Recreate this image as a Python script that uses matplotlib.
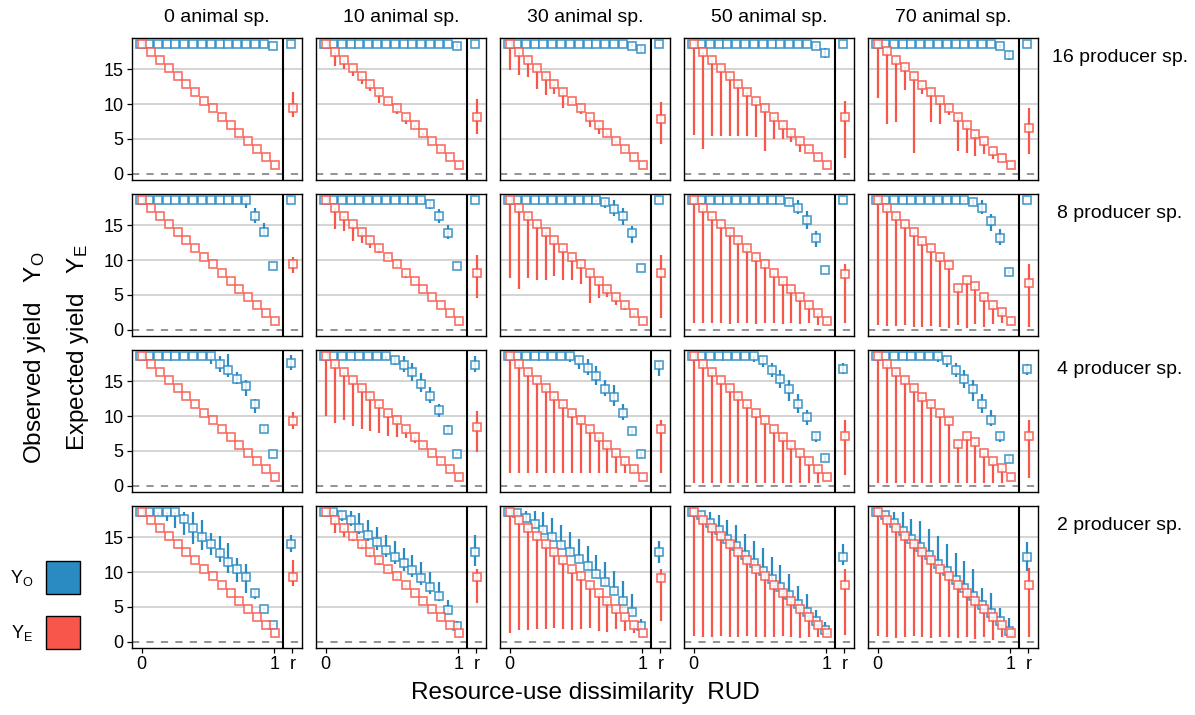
import matplotlib
matplotlib.use("Agg")
import matplotlib.pyplot as plt
from matplotlib.patches import Rectangle

plt.rcParams["font.family"] = ["Liberation Sans", "DejaVu Sans"]
plt.rcParams["mathtext.fontset"] = "custom"
plt.rcParams["mathtext.rm"] = "Liberation Sans"
plt.rcParams["mathtext.it"] = "Liberation Sans:italic"

BLUE = "#2a8bc3"
RED = "#f8564a"

ANIMALS = ["0 animal sp.", "10 animal sp.", "30 animal sp.", "50 animal sp.", "70 animal sp."]
PRODUCERS = ["16 producer sp.", "8 producer sp.", "4 producer sp.", "2 producer sp."]

RUD = [0.0, 0.067, 0.133, 0.2, 0.267, 0.333, 0.4, 0.467, 0.533, 0.6, 0.667, 0.733, 0.8, 0.867, 0.933, 1.0]
R_POS = 1.138

# expected yield medians (shared by most panels)
YE_LINE = [18.7, 17.5, 16.4, 15.2, 14.0, 12.9, 11.7, 10.5, 9.4, 8.2, 7.0, 5.9, 4.7, 3.5, 2.4, 1.2]
YE_BENT = [18.7, 17.5, 16.3, 15.2, 14.0, 12.8, 11.7, 10.5, 9.3, 6.0, 7.1, 6.2, 4.7, 3.5, 2.6, 1.2]
YE_ROW16_C5 = [18.7, 17.6, 16.3, 15.3, 14.1, 12.8, 11.8, 10.6, 9.4, 8.1, 7.0, 5.7, 4.7, 3.3, 2.2, 1.2]

# ---- 16 producer species ----
YO_MID_16 = [
    [18.6, 18.6, 18.6, 18.6, 18.6, 18.6, 18.6, 18.6, 18.6, 18.6, 18.6, 18.6, 18.6, 18.6, 18.6, 18.4],
    [18.6, 18.6, 18.6, 18.6, 18.6, 18.6, 18.6, 18.6, 18.6, 18.6, 18.6, 18.6, 18.6, 18.6, 18.6, 18.3],
    [18.6, 18.6, 18.6, 18.6, 18.6, 18.6, 18.6, 18.6, 18.6, 18.6, 18.6, 18.6, 18.6, 18.6, 18.4, 17.9],
    [18.6, 18.6, 18.6, 18.6, 18.6, 18.6, 18.6, 18.6, 18.6, 18.6, 18.6, 18.6, 18.6, 18.6, 18.4, 17.3],
    [18.6, 18.6, 18.6, 18.6, 18.6, 18.6, 18.6, 18.6, 18.6, 18.6, 18.6, 18.6, 18.6, 18.6, 18.4, 17.0],
]
YO_LO_16 = [
    [18.6, 18.6, 18.6, 18.6, 18.6, 18.6, 18.6, 18.6, 18.6, 18.6, 18.6, 18.6, 18.6, 18.6, 18.6, 18.4],
    [18.6, 18.6, 18.6, 18.6, 18.6, 18.6, 18.6, 18.6, 18.6, 18.6, 18.6, 18.6, 18.6, 18.6, 18.6, 18.0],
    [18.6, 18.6, 18.6, 18.6, 18.6, 18.6, 18.6, 18.6, 18.6, 18.6, 18.6, 18.6, 18.6, 18.6, 18.2, 17.4],
    [18.6, 18.6, 18.6, 18.6, 18.6, 18.6, 18.6, 18.6, 18.6, 18.6, 18.6, 18.6, 18.6, 18.6, 18.0, 16.6],
    [18.6, 18.6, 18.6, 18.6, 18.6, 18.6, 18.6, 18.6, 18.6, 18.6, 18.6, 18.6, 18.6, 18.6, 18.0, 16.3],
]
YO_HI_16 = [
    [18.6, 18.6, 18.6, 18.6, 18.6, 18.6, 18.6, 18.6, 18.6, 18.6, 18.6, 18.6, 18.6, 18.6, 18.6, 18.4],
    [18.6, 18.6, 18.6, 18.6, 18.6, 18.6, 18.6, 18.6, 18.6, 18.6, 18.6, 18.6, 18.6, 18.6, 18.6, 18.6],
    [18.6, 18.6, 18.6, 18.6, 18.6, 18.6, 18.6, 18.6, 18.6, 18.6, 18.6, 18.6, 18.6, 18.6, 18.6, 18.3],
    [18.6, 18.6, 18.6, 18.6, 18.6, 18.6, 18.6, 18.6, 18.6, 18.6, 18.6, 18.6, 18.6, 18.6, 18.6, 18.0],
    [18.6, 18.6, 18.6, 18.6, 18.6, 18.6, 18.6, 18.6, 18.6, 18.6, 18.6, 18.6, 18.6, 18.6, 18.6, 17.6],
]
YE_MID_16 = [YE_LINE, YE_LINE, YE_LINE, YE_LINE, YE_ROW16_C5]
YE_LO_16 = [
    YE_LINE,
    [18.7, 15.5, 15.0, 14.0, 12.9, 11.9, 10.2, 9.8, 8.6, 7.1, 6.6, 5.5, 4.5, 3.3, 2.4, 1.2],
    [14.9, 14.2, 13.9, 12.2, 11.3, 11.5, 9.5, 9.8, 8.6, 6.7, 5.7, 5.2, 4.3, 3.3, 2.4, 1.2],
    [5.5, 3.5, 5.4, 5.4, 5.4, 5.4, 5.4, 5.2, 3.3, 5.0, 5.0, 4.6, 3.1, 3.3, 2.2, 1.2],
    [10.8, 7.1, 7.4, 12.0, 3.0, 11.5, 7.4, 7.2, 8.4, 3.3, 3.0, 2.6, 2.8, 2.1, 2.2, 1.2],
]
R_YO_16 = [[18.6, 18.6, 18.6], [18.6, 18.6, 18.6], [18.6, 18.6, 18.6], [18.6, 18.6, 18.6], [18.6, 18.6, 18.6]]
R_YE_16 = [[9.4, 8.1, 11.8], [8.2, 5.7, 10.7], [7.9, 4.3, 10.3], [8.1, 2.2, 10.5], [6.5, 2.8, 9.5]]

# ---- 8 producer species ----
YO_MID_8 = [
    [18.6, 18.6, 18.6, 18.6, 18.6, 18.6, 18.6, 18.6, 18.6, 18.6, 18.6, 18.6, 18.6, 16.4, 14.0, 9.2],
    [18.6, 18.6, 18.6, 18.6, 18.6, 18.6, 18.6, 18.6, 18.6, 18.6, 18.6, 18.6, 18.0, 16.4, 13.9, 9.1],
    [18.6, 18.6, 18.6, 18.6, 18.6, 18.6, 18.6, 18.6, 18.6, 18.6, 18.6, 18.3, 17.3, 16.3, 13.9, 8.8],
    [18.6, 18.6, 18.6, 18.6, 18.6, 18.6, 18.6, 18.6, 18.6, 18.6, 18.6, 18.4, 17.5, 15.8, 13.2, 8.5],
    [18.6, 18.6, 18.6, 18.6, 18.6, 18.6, 18.6, 18.6, 18.6, 18.6, 18.6, 18.4, 17.5, 15.6, 13.2, 8.3],
]
YO_LO_8 = [
    [18.6, 18.6, 18.6, 18.6, 18.6, 18.6, 18.6, 18.6, 18.6, 18.6, 18.6, 18.6, 17.5, 15.4, 13.6, 9.2],
    [18.6, 18.6, 18.6, 18.6, 18.6, 18.6, 18.6, 18.6, 18.6, 18.6, 18.6, 18.3, 17.3, 15.4, 13.1, 9.1],
    [18.6, 18.6, 18.6, 18.6, 18.6, 18.6, 18.6, 18.6, 18.6, 18.6, 18.3, 17.5, 16.3, 15.1, 12.5, 8.8],
    [18.6, 18.6, 18.6, 18.6, 18.6, 18.6, 18.6, 18.6, 18.6, 18.6, 18.3, 17.8, 16.6, 14.5, 11.9, 8.5],
    [18.6, 18.6, 18.6, 18.6, 18.6, 18.6, 18.6, 18.6, 18.6, 18.6, 18.3, 17.8, 16.6, 14.2, 12.2, 8.0],
]
YO_HI_8 = [
    [18.6, 18.6, 18.6, 18.6, 18.6, 18.6, 18.6, 18.6, 18.6, 18.6, 18.6, 18.6, 18.6, 17.5, 15.4, 9.2],
    [18.6, 18.6, 18.6, 18.6, 18.6, 18.6, 18.6, 18.6, 18.6, 18.6, 18.6, 18.6, 18.6, 17.3, 15.1, 9.1],
    [18.6, 18.6, 18.6, 18.6, 18.6, 18.6, 18.6, 18.6, 18.6, 18.6, 18.6, 18.6, 18.6, 17.5, 14.9, 8.8],
    [18.6, 18.6, 18.6, 18.6, 18.6, 18.6, 18.6, 18.6, 18.6, 18.6, 18.6, 18.6, 18.6, 17.0, 14.2, 8.5],
    [18.6, 18.6, 18.6, 18.6, 18.6, 18.6, 18.6, 18.6, 18.6, 18.6, 18.6, 18.6, 18.6, 16.6, 14.4, 8.6],
]
YE_MID_8 = [YE_LINE, YE_LINE, YE_LINE, YE_LINE, YE_BENT]
YE_LO_8 = [
    YE_LINE,
    [18.7, 14.4, 14.2, 12.7, 12.5, 11.7, 11.0, 10.0, 9.0, 7.4, 6.9, 5.9, 4.7, 3.5, 2.4, 1.2],
    [7.4, 5.8, 7.4, 7.2, 7.2, 7.7, 7.2, 7.2, 6.5, 3.8, 4.5, 4.7, 3.6, 2.8, 2.0, 1.2],
    [0.9, 0.9, 0.9, 0.9, 0.8, 0.9, 0.9, 0.8, 0.9, 0.9, 0.8, 0.9, 0.8, 0.9, 0.6, 1.0],
    [0.7, 0.5, 0.5, 0.6, 0.4, 0.4, 0.5, 0.4, 0.3, 0.6, 0.2, 0.8, 0.4, 0.8, 1.0, 1.2],
]
R_YO_8 = [[18.6, 18.6, 18.6], [18.6, 18.6, 18.6], [18.6, 18.6, 18.6], [18.6, 18.6, 18.6], [18.6, 18.6, 18.6]]
R_YE_8 = [[9.4, 8.1, 10.5], [8.2, 4.6, 10.7], [8.1, 1.6, 10.7], [8.0, 0.9, 9.5], [6.7, 0.4, 9.5]]

# ---- 4 producer species ----
YO_MID_4 = [
    [18.6, 18.6, 18.6, 18.6, 18.6, 18.6, 18.6, 18.6, 18.6, 17.5, 16.6, 15.4, 14.3, 11.7, 8.2, 4.6],
    [18.6, 18.6, 18.6, 18.6, 18.6, 18.6, 18.6, 18.6, 18.0, 17.3, 16.3, 14.6, 12.9, 10.8, 8.0, 4.6],
    [18.6, 18.6, 18.6, 18.6, 18.6, 18.6, 18.6, 18.6, 18.0, 16.9, 15.8, 13.9, 12.7, 10.5, 7.8, 4.5],
    [18.6, 18.6, 18.6, 18.6, 18.6, 18.6, 18.6, 18.6, 18.0, 16.6, 15.4, 13.9, 11.7, 9.8, 7.1, 3.9],
    [18.6, 18.6, 18.6, 18.6, 18.6, 18.6, 18.6, 18.6, 18.0, 16.6, 15.4, 13.9, 11.7, 9.5, 7.1, 3.8],
]
YO_LO_4 = [
    [18.6, 18.6, 18.6, 18.6, 18.6, 18.6, 18.6, 18.6, 17.5, 16.3, 15.6, 14.6, 12.9, 10.5, 7.7, 4.6],
    [18.6, 18.6, 18.6, 18.6, 18.6, 18.6, 18.6, 18.0, 17.3, 16.3, 15.0, 13.5, 11.9, 9.8, 7.4, 4.4],
    [18.6, 18.6, 18.6, 18.6, 18.6, 18.6, 18.6, 17.8, 16.8, 15.9, 14.5, 12.9, 11.5, 9.5, 7.4, 3.9],
    [18.6, 18.6, 18.6, 18.6, 18.6, 18.6, 18.6, 17.8, 17.0, 15.6, 14.0, 12.2, 10.5, 8.7, 6.3, 3.5],
    [18.6, 18.6, 18.6, 18.6, 18.6, 18.6, 18.6, 17.8, 17.0, 15.6, 14.0, 12.2, 10.5, 8.5, 6.3, 3.4],
]
YO_HI_4 = [
    [18.6, 18.6, 18.6, 18.6, 18.6, 18.6, 18.6, 18.6, 18.6, 18.6, 18.9, 16.3, 15.2, 12.5, 8.7, 4.6],
    [18.6, 18.6, 18.6, 18.6, 18.6, 18.6, 18.6, 18.6, 18.6, 18.6, 17.6, 16.2, 14.2, 11.7, 8.7, 4.9],
    [18.6, 18.6, 18.6, 18.6, 18.6, 18.6, 18.6, 18.6, 18.6, 18.2, 17.2, 15.2, 14.5, 11.8, 8.2, 4.8],
    [18.6, 18.6, 18.6, 18.6, 18.6, 18.6, 18.6, 18.6, 18.6, 17.6, 16.6, 15.2, 13.2, 10.8, 7.7, 4.2],
    [18.6, 18.6, 18.6, 18.6, 18.6, 18.6, 18.6, 18.6, 18.6, 17.6, 16.6, 15.2, 13.2, 10.8, 7.7, 4.2],
]
YE_MID_4 = [YE_LINE, YE_LINE, YE_LINE, YE_LINE, YE_BENT]
YE_LO_4 = [
    YE_LINE,
    [10.0, 9.0, 9.5, 8.6, 8.1, 7.8, 7.5, 7.2, 7.0, 6.8, 6.1, 5.5, 4.5, 3.3, 2.2, 1.2],
    [1.8, 1.8, 1.8, 1.8, 1.8, 1.8, 1.8, 1.8, 1.8, 1.8, 1.8, 1.8, 1.8, 1.8, 1.8, 1.2],
    [0.4, 0.4, 0.4, 0.4, 0.4, 0.4, 0.4, 0.4, 0.4, 0.4, 0.4, 0.4, 0.4, 0.4, 0.4, 1.2],
    [0.4, 0.4, 0.4, 0.4, 0.4, 0.4, 0.4, 0.4, 0.4, 0.4, 0.4, 0.4, 0.4, 0.4, 0.4, 1.2],
]
R_YO_4 = [[17.7, 16.6, 18.8], [17.4, 16.4, 18.6], [17.3, 15.7, 17.9], [16.8, 16.0, 17.7], [16.7, 15.9, 17.5]]
R_YE_4 = [[9.3, 8.2, 10.6], [8.4, 4.8, 10.7], [8.1, 1.8, 9.5], [7.2, 1.5, 9.5], [7.1, 1.1, 9.5]]

# ---- 2 producer species ----
YO_MID_2 = [
    [18.7, 18.7, 18.7, 18.7, 18.7, 17.6, 16.3, 15.1, 14.0, 12.8, 11.5, 10.5, 9.3, 7.0, 4.7, 2.4],
    [18.7, 18.6, 18.2, 17.5, 16.4, 15.4, 14.3, 13.2, 12.2, 11.3, 10.3, 9.1, 7.9, 6.6, 4.5, 2.3],
    [18.7, 18.5, 17.8, 16.9, 16.0, 15.0, 13.9, 12.9, 11.9, 10.8, 9.7, 8.5, 7.3, 5.9, 4.3, 2.2],
    [18.7, 18.2, 17.1, 16.0, 14.8, 13.7, 12.5, 11.3, 10.2, 9.0, 7.8, 6.7, 5.4, 4.2, 2.9, 1.6],
    [18.7, 18.2, 17.1, 15.9, 14.7, 13.6, 12.4, 11.2, 10.1, 8.9, 7.7, 6.6, 5.3, 4.1, 2.9, 1.5],
]
YO_LO_2 = [
    [18.7, 18.7, 18.0, 17.4, 16.3, 15.4, 14.0, 13.2, 12.5, 11.5, 9.8, 8.5, 7.0, 6.1, 4.5, 2.4],
    [18.7, 18.2, 17.4, 16.6, 15.5, 14.4, 13.2, 12.2, 11.2, 10.2, 9.3, 8.1, 6.9, 5.8, 4.0, 2.0],
    [18.7, 18.1, 17.3, 16.4, 15.5, 14.5, 13.4, 12.4, 11.4, 10.3, 9.2, 8.0, 6.8, 5.4, 3.9, 1.9],
    [18.7, 17.9, 16.8, 15.7, 14.5, 13.4, 12.2, 11.0, 9.9, 8.7, 7.5, 6.4, 5.1, 3.9, 2.6, 1.3],
    [18.7, 17.9, 16.8, 15.6, 14.4, 13.3, 12.1, 10.9, 9.8, 8.6, 7.4, 6.3, 5.0, 3.8, 2.6, 1.2],
]
YO_HI_2 = [
    [18.7, 18.7, 18.7, 18.7, 18.7, 18.7, 18.7, 17.5, 15.6, 15.2, 14.2, 12.0, 11.1, 7.5, 4.9, 2.6],
    [18.8, 18.8, 18.8, 18.8, 18.5, 17.5, 16.5, 15.3, 14.5, 13.5, 12.5, 11.4, 10.0, 8.6, 6.0, 3.0],
    [18.8, 18.8, 18.8, 18.8, 18.6, 17.8, 16.8, 15.8, 14.8, 13.7, 12.5, 11.4, 10.2, 8.7, 6.8, 3.3],
    [18.8, 18.8, 18.7, 18.2, 17.5, 16.8, 15.5, 14.5, 13.4, 12.2, 11.0, 9.7, 8.0, 6.8, 4.6, 2.8],
    [18.8, 18.8, 18.6, 18.6, 17.6, 17.4, 16.2, 15.2, 14.0, 12.8, 11.6, 10.4, 7.7, 7.0, 4.8, 3.4],
]
YE_MID_2 = [YE_LINE, YE_LINE, YE_LINE, YE_LINE, YE_LINE]
YE_LO_2 = [
    YE_LINE,
    [18.7, 15.6, 15.1, 14.4, 13.3, 12.2, 11.0, 10.0, 9.0, 7.9, 6.8, 5.7, 4.5, 3.4, 2.3, 1.2],
    [1.3, 1.6, 1.7, 1.8, 1.8, 1.9, 1.8, 1.6, 1.8, 1.9, 1.5, 1.4, 1.8, 1.5, 1.3, 1.2],
    [0.8, 0.7, 0.6, 0.8, 0.7, 0.6, 0.8, 0.7, 0.6, 0.7, 0.8, 0.6, 0.5, 0.7, 0.6, 1.0],
    [0.8, 0.6, 0.5, 0.7, 0.8, 0.6, 0.5, 0.7, 0.6, 0.5, 0.6, 0.4, 0.7, 0.3, 0.6, 1.1],
]
R_YO_2 = [[14.0, 12.9, 15.4], [12.9, 10.8, 15.3], [12.9, 11.3, 14.5], [12.2, 11.0, 14.0], [12.1, 10.1, 14.3]]
R_YE_2 = [[9.3, 8.0, 11.8], [9.3, 5.5, 10.5], [9.1, 3.0, 10.5], [8.2, 0.9, 10.5], [8.1, 0.7, 10.6]]

ROWS = [
    (YO_MID_16, YO_LO_16, YO_HI_16, YE_MID_16, YE_LO_16, R_YO_16, R_YE_16),
    (YO_MID_8, YO_LO_8, YO_HI_8, YE_MID_8, YE_LO_8, R_YO_8, R_YE_8),
    (YO_MID_4, YO_LO_4, YO_HI_4, YE_MID_4, YE_LO_4, R_YO_4, R_YE_4),
    (YO_MID_2, YO_LO_2, YO_HI_2, YE_MID_2, YE_LO_2, R_YO_2, R_YE_2),
]

W, H = 1195, 715
fig = plt.figure(figsize=(W / 100, H / 100), dpi=100)

COL_LEFT = [132, 316, 500, 684, 868]
ROW_TOP = [38, 194, 350, 506]
PW, PH = 170, 141.5
DODGE_O, DODGE_E = -0.012, 0.004
MS, MEW = 6.2, 1.2


def draw_series(ax, xs, mid, lo, hi, color, dodge):
    x = [v + dodge for v in xs]
    ax.vlines(x, lo, hi, color=color, lw=1.6, zorder=3)
    ax.plot(x, mid, ls="none", marker="s", ms=MS, mew=MEW, mec=color,
            mfc="white", alpha=0.85, zorder=4)


for r, (yo_mid, yo_lo, yo_hi, ye_mid, ye_lo, r_yo, r_ye) in enumerate(ROWS):
    for c in range(5):
        left, top = COL_LEFT[c], ROW_TOP[r]
        ax = fig.add_axes([left / W, 1 - (top + PH) / H, PW / W, PH / H])
        ax.set_xlim(-0.073, 1.21)
        ax.set_ylim(-0.85, 19.5)

        for g in (5, 10, 15):
            ax.axhline(g, color="#d4d4d4", lw=1.4, zorder=0)
        ax.axhline(0, color="#8a8a8a", lw=1.3, ls=(0, (4, 4)), zorder=0)
        ax.axvline(1.068, color="black", lw=1.5, zorder=5)

        # observed yield
        draw_series(ax, RUD, yo_mid[c], yo_lo[c], yo_hi[c], BLUE, DODGE_O)
        draw_series(ax, [R_POS], [r_yo[c][0]], [r_yo[c][1]], [r_yo[c][2]], BLUE, DODGE_O)
        # expected yield (bars reach up to the median)
        draw_series(ax, RUD, ye_mid[c], ye_lo[c], ye_mid[c], RED, DODGE_E)
        draw_series(ax, [R_POS], [r_ye[c][0]], [r_ye[c][1]], [r_ye[c][2]], RED, DODGE_E)

        for s in ax.spines.values():
            s.set_color("black")
            s.set_linewidth(1.0)

        ax.set_yticks([0, 5, 10, 15])
        ax.set_xticks([0, 1, R_POS])
        ax.tick_params(length=3.5, width=0.9, colors="black", labelsize=13, pad=2.5)
        if c == 0:
            ax.set_yticklabels(["0", "5", "10", "15"])
        else:
            ax.tick_params(axis="y", length=0, labelleft=False)
        if r == 3:
            ax.set_xticklabels(["0", "1", "r"])
        else:
            ax.tick_params(axis="x", length=0, labelbottom=False)

        if r == 0:
            fig.text((left + PW / 2) / W, 1 - 17 / H, ANIMALS[c], ha="center",
                     va="center", fontsize=14)
    fig.text(1120 / W, 1 - (ROW_TOP[r] + 19) / H, PRODUCERS[r], ha="center",
             va="center", fontsize=14)

fig.text(585 / W, 1 - 693 / H, "Resource-use dissimilarity  RUD", ha="center",
         va="center", fontsize=17.5)
fig.text(35 / W, 1 - 358 / H, r"Observed yield   Y$_\mathrm{O}$", rotation=90,
         ha="center", va="center", fontsize=17.5)
fig.text(78 / W, 1 - 348 / H, r"Expected yield   Y$_\mathrm{E}$", rotation=90,
         ha="center", va="center", fontsize=17.5)

# legend keys
for label, color, ytop in ((r"Y$_\mathrm{O}$", BLUE, 561), (r"Y$_\mathrm{E}$", RED, 616)):
    fig.add_artist(Rectangle((46 / W, 1 - (ytop + 33) / H), 34 / W, 33 / H,
                             transform=fig.transFigure, facecolor=color,
                             edgecolor="black", lw=1.0))
    fig.text(22 / W, 1 - (ytop + 17) / H, label, ha="center", va="center", fontsize=13)

fig.savefig("out.png", dpi=100)
